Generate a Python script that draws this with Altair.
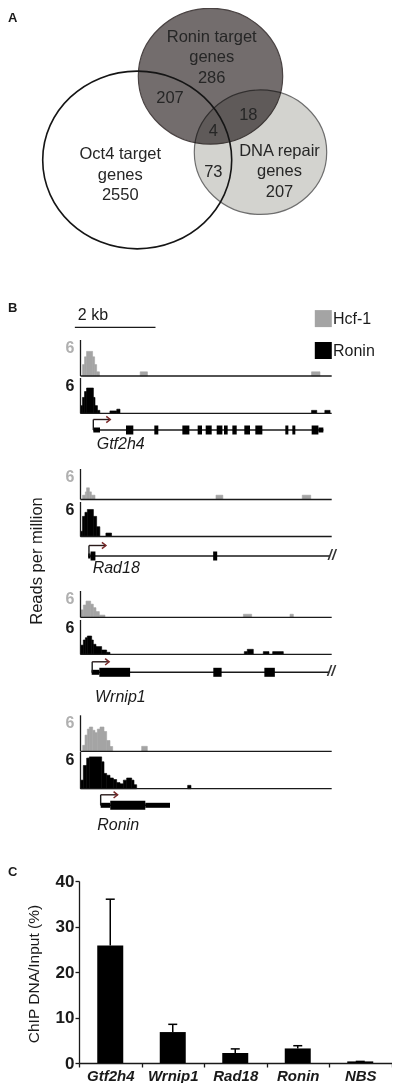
import altair as alt
import pandas as pd

FONT = "Liberation Sans"
INK = "#1a1a1a"

# ======================= DATA =======================
# ---- Panel A: Venn diagram counts ----
venn_sets = ["Ronin target\ngenes", "Oct4 target\ngenes", "DNA repair\ngenes"]
venn_unique = [286, 2550, 207]
venn_overlaps = ["Ronin+Oct4", "Ronin+DNA repair", "all three", "Oct4+DNA repair"]
venn_overlap_n = [207, 18, 4, 73]

# ---- Panel B: ChIP-seq tracks (kb from locus start, reads per million, 0-6 track scale) ----
tracks = ["Hcf-1", "Ronin"]
genes = ["Gtf2h4", "Rad18", "Wrnip1", "Ronin"]

gtf2h4_hcf_start = [0.05, 0.10, 0.15, 0.30, 0.35, 0.40, 1.48, 5.73]
gtf2h4_hcf_end = [0.10, 0.15, 0.30, 0.35, 0.40, 0.47, 1.66, 5.94]
gtf2h4_hcf_rpm = [1.9, 3.2, 4.1, 3.2, 1.9, 0.7, 0.7, 0.7]
gtf2h4_ron_start = [0.0, 0.05, 0.10, 0.15, 0.32, 0.36, 0.42, 0.73, 0.90, 5.73, 6.06]
gtf2h4_ron_end = [0.05, 0.10, 0.15, 0.32, 0.36, 0.42, 0.48, 0.90, 0.98, 5.86, 6.19]
gtf2h4_ron_rpm = [1.3, 2.7, 3.7, 4.3, 2.7, 1.3, 0.5, 0.4, 0.7, 0.5, 0.5]

rad18_hcf_start = [0.05, 0.12, 0.15, 0.22, 0.27, 3.36, 5.50]
rad18_hcf_end = [0.12, 0.15, 0.22, 0.27, 0.36, 3.53, 5.71]
rad18_hcf_rpm = [0.85, 1.5, 2.3, 1.5, 0.85, 0.85, 0.85]
rad18_ron_start = [0.0, 0.05, 0.11, 0.17, 0.32, 0.40, 0.63]
rad18_ron_end = [0.05, 0.11, 0.17, 0.32, 0.40, 0.48, 0.77]
rad18_ron_rpm = [0.9, 3.5, 4.2, 4.7, 3.5, 1.7, 0.6]

wrnip1_hcf_start = [0.0, 0.07, 0.136, 0.252, 0.318, 0.384, 0.467, 4.04, 5.196]
wrnip1_hcf_end = [0.07, 0.136, 0.252, 0.318, 0.384, 0.467, 0.607, 4.245, 5.279]
wrnip1_hcf_rpm = [1.7, 2.8, 3.7, 3.0, 2.2, 1.3, 0.5, 0.7, 0.7]
wrnip1_ron_start = [0.0, 0.07, 0.12, 0.169, 0.277, 0.318, 0.384, 0.525, 0.649, 4.063, 4.137, 4.534, 4.766]
wrnip1_ron_end = [0.07, 0.12, 0.169, 0.277, 0.318, 0.384, 0.525, 0.649, 0.732, 4.137, 4.286, 4.675, 5.03]
wrnip1_ron_rpm = [1.6, 2.5, 2.9, 3.2, 2.5, 1.75, 1.35, 0.75, 0.35, 0.47, 0.87, 0.47, 0.47]

ronin_hcf_start = [0.054, 0.112, 0.17, 0.22, 0.302, 0.36, 0.417, 0.484, 0.583, 0.649, 0.732, 1.517]
ronin_hcf_end = [0.112, 0.17, 0.22, 0.302, 0.36, 0.417, 0.484, 0.583, 0.649, 0.732, 0.798, 1.657]
ronin_hcf_rpm = [1.0, 2.7, 3.7, 4.05, 3.5, 3.1, 3.7, 4.05, 3.3, 1.8, 0.8, 0.83]
ronin_ron_start = [0.0, 0.07, 0.153, 0.219, 0.525, 0.583, 0.649, 0.732, 0.815, 0.897, 0.98, 1.063, 1.145, 1.27, 1.327, 2.658]
ronin_ron_end = [0.07, 0.153, 0.219, 0.525, 0.583, 0.649, 0.732, 0.815, 0.897, 0.98, 1.063, 1.145, 1.27, 1.327, 1.393, 2.74]
ronin_ron_rpm = [1.4, 3.8, 5.0, 5.2, 4.4, 2.5, 2.2, 1.75, 1.5, 1.0, 0.8, 1.4, 1.75, 1.4, 0.65, 0.55]

# gene models (kb): exons and their kind
gtf2h4_exon_start = [0.318, 1.128, 1.831, 2.526, 2.906, 3.105, 3.378, 3.559, 3.766, 4.063, 4.336, 5.080, 5.254, 5.733, 5.90]
gtf2h4_exon_end = [0.484, 1.31, 1.93, 2.70, 3.014, 3.254, 3.519, 3.650, 3.874, 4.204, 4.510, 5.155, 5.328, 5.90, 6.023]
gtf2h4_exon_kind = ["utr"] + ["cds"] * 13 + ["utr"]
rad18_exon_start = [0.19, 0.25, 3.29]
rad18_exon_end = [0.25, 0.37, 3.39]
rad18_exon_kind = ["utr", "cds", "cds"]
wrnip1_exon_start = [0.277, 0.467, 3.294, 4.56]
wrnip1_exon_end = [0.467, 1.23, 3.50, 4.82]
wrnip1_exon_kind = ["utr", "cds", "cds", "cds"]
ronin_exon_start = [0.50, 0.738, 1.607]
ronin_exon_end = [0.738, 1.607, 2.22]
ronin_exon_kind = ["utr", "cds", "utr"]

gene_tss = [0.318, 0.21, 0.29, 0.50]
gene_locus_start = [0.318, 0.19, 0.277, 0.50]
gene_locus_end = [6.023, 6.19, 6.17, 2.22]
gene_truncated = [False, True, True, False]
scalebar_kb = 2

# ---- Panel C: ChIP-qPCR ----
chip_genes = ["Gtf2h4", "Wrnip1", "Rad18", "Ronin", "NBS"]
chip_mean = [25.8, 6.8, 2.2, 3.2, 0.35]
chip_upper = [36.0, 8.5, 3.1, 3.8, 0.35]

# ======================= LAYOUT (page pixels) =======================
MARGIN = 8
def P(v):
    return v - MARGIN

W, H = 384, 1075

# Venn geometry
venn_cx = [210.5, 137.2, 260.5]
venn_cy = [76.2, 160.0, 152.2]
venn_rx = [72.2, 94.5, 66.2]
venn_lab_x = [211.7, 120.3, 279.5]
venn_lab_y = [37.0, 154.3, 151.0]      # first line of each label
venn_ov_x = [170.0, 248.3, 213.3, 213.3]
venn_ov_y = [98.3, 115.0, 131.0, 171.7]
ELLIPSE = "M -1 0 A 1 0.94 0 1 0 1 0 A 1 0.94 0 1 0 -1 0 Z"

# Panel B geometry
X0, PXKB, KB_MAX = 80.5, 40.32, 6.25
BASE_END = 6.23
hcf_top = [340, 469, 591, 715.3]
hcf_base = [376, 499.5, 617.3, 751.3]
ron_top = [378, 502, 620, 752]
ron_base = [413.3, 536.5, 654.3, 788.7]
gene_line_y = [430, 556, 672.3, 805.3]
name_y = [444, 568, 697, 825]
name_dx = [3.4, 3.7, 2.8, -3.4]
ARROW_KB = 0.42

# Panel C geometry
C_X0, C_X1 = 79.0, 391.5
C_Y0, C_Y40 = 1063.0, 881.0

# ======================= HELPERS =======================
ONE = pd.DataFrame({"k": [0]})


def page_x():
    return alt.Scale(domain=[0, 400], range=[-MARGIN, 400 - MARGIN], nice=False, zero=False)


def page_y():
    return alt.Scale(domain=[0, 1091], range=[-MARGIN, 1091 - MARGIN], nice=False, zero=False)


def xB():
    return alt.Scale(domain=[0, KB_MAX], range=[P(X0), P(X0 + KB_MAX * PXKB)], nice=False, zero=False)


def yTrack(top, base):
    return alt.Scale(domain=[0, 6], range=[P(base), P(top)], nice=False, zero=False)


def yGene(line):
    return alt.Scale(domain=[-1, 1], range=[P(line + 10), P(line - 10)], nice=False, zero=False)


def color_scale():
    return alt.Scale(domain=tracks, range=["#a4a4a4", "#000000"])


def text_mark(**kw):
    base = dict(font=FONT, color=INK)
    base.update(kw)
    return alt.Chart(ONE).mark_text(**base)


layers = []

# ======================= PANEL A =======================
layers.append(text_mark(text="A", fontSize=13, fontWeight="bold", align="left", baseline="middle")
              .encode(x=alt.value(0), y=alt.value(P(18))))

venn_df = pd.DataFrame({
    "set": venn_sets, "cx": venn_cx, "cy": venn_cy,
    "area": [(2 * r) ** 2 for r in venn_rx],
})
circle_style = {
    2: dict(fill="#d3d3cf", stroke="#6e6e6e", strokeWidth=1.2, filled=True),
    0: dict(fill="#736d6d", stroke="#4a4343", strokeWidth=1.2, filled=True, blend="multiply"),
    1: dict(stroke="#151515", strokeWidth=1.6, filled=False),
}
for i in [2, 0, 1]:
    layers.append(
        alt.Chart(venn_df.iloc[[i]]).mark_point(shape=ELLIPSE, opacity=1, **circle_style[i]).encode(
            x=alt.X("cx:Q", scale=page_x(), axis=None),
            y=alt.Y("cy:Q", scale=page_y(), axis=None),
            size=alt.Size("area:Q", scale=None, legend=None),
        )
    )

venn_text_df = pd.DataFrame({
    "label": [s + "\n" + str(n) for s, n in zip(venn_sets, venn_unique)],
    "x": venn_lab_x, "y": venn_lab_y,
})
layers.append(
    alt.Chart(venn_text_df).mark_text(font=FONT, fontSize=16.5, color="#262626", lineBreak="\n",
                                      lineHeight=20.3, align="center", baseline="middle").encode(
        x=alt.X("x:Q", scale=page_x(), axis=None),
        y=alt.Y("y:Q", scale=page_y(), axis=None),
        text="label:N",
    )
)
venn_ov_df = pd.DataFrame({"region": venn_overlaps, "n": venn_overlap_n, "x": venn_ov_x, "y": venn_ov_y})
layers.append(
    alt.Chart(venn_ov_df).mark_text(font=FONT, fontSize=16.5, color="#262626", align="center",
                                    baseline="middle").encode(
        x=alt.X("x:Q", scale=page_x(), axis=None),
        y=alt.Y("y:Q", scale=page_y(), axis=None),
        text="n:Q",
    )
)

# ======================= PANEL B =======================
layers.append(text_mark(text="B", fontSize=13, fontWeight="bold", align="left", baseline="middle")
              .encode(x=alt.value(0), y=alt.value(P(307.5))))

# scale bar
layers.append(
    alt.Chart(ONE).mark_rule(color=INK, strokeWidth=1.3).encode(
        x=alt.XDatum(-0.14, scale=xB(), axis=None),
        x2=alt.datum(-0.14 + scalebar_kb),
        y=alt.value(P(327.3)),
    )
)
layers.append(
    text_mark(text=f"{scalebar_kb} kb", fontSize=16, align="left", baseline="middle", dx=3).encode(
        x=alt.XDatum(-0.14, scale=xB(), axis=None),
        y=alt.value(P(315)),
    )
)

# legend
leg_df = pd.DataFrame({"track": tracks})
leg_y = alt.Scale(type="point", domain=tracks, range=[P(318.6), P(350.5)], padding=0)
layers.append(
    alt.Chart(leg_df).mark_square(size=289, opacity=1, filled=True).encode(
        x=alt.value(P(323.3)),
        y=alt.Y("track:N", scale=leg_y, axis=None),
        color=alt.Color("track:N", scale=color_scale(), legend=None),
    )
)
layers.append(
    alt.Chart(leg_df).mark_text(font=FONT, fontSize=16, color=INK, align="left", baseline="middle").encode(
        x=alt.value(P(333)),
        y=alt.Y("track:N", scale=leg_y, axis=None),
        text="track:N",
    )
)

# y title for tracks
layers.append(
    text_mark(text="Reads per million", fontSize=16.5, angle=270, align="center", baseline="middle")
    .encode(x=alt.value(P(37)), y=alt.value(P(561)))
)

coverage = {
    "Gtf2h4": [(gtf2h4_hcf_start, gtf2h4_hcf_end, gtf2h4_hcf_rpm), (gtf2h4_ron_start, gtf2h4_ron_end, gtf2h4_ron_rpm)],
    "Rad18": [(rad18_hcf_start, rad18_hcf_end, rad18_hcf_rpm), (rad18_ron_start, rad18_ron_end, rad18_ron_rpm)],
    "Wrnip1": [(wrnip1_hcf_start, wrnip1_hcf_end, wrnip1_hcf_rpm), (wrnip1_ron_start, wrnip1_ron_end, wrnip1_ron_rpm)],
    "Ronin": [(ronin_hcf_start, ronin_hcf_end, ronin_hcf_rpm), (ronin_ron_start, ronin_ron_end, ronin_ron_rpm)],
}
exons = {
    "Gtf2h4": (gtf2h4_exon_start, gtf2h4_exon_end, gtf2h4_exon_kind),
    "Rad18": (rad18_exon_start, rad18_exon_end, rad18_exon_kind),
    "Wrnip1": (wrnip1_exon_start, wrnip1_exon_end, wrnip1_exon_kind),
    "Ronin": (ronin_exon_start, ronin_exon_end, ronin_exon_kind),
}
label_colors = ["#b0b0b0", INK]

for gi, g in enumerate(genes):
    tops = [hcf_top[gi], ron_top[gi]]
    bases = [hcf_base[gi], ron_base[gi]]
    for ti, tr in enumerate(tracks):
        s, e, h = coverage[g][ti]
        df = pd.DataFrame({"start": s, "end": e, "rpm": h, "track": tr})
        ys = yTrack(tops[ti], bases[ti])
        layers.append(
            alt.Chart(df).mark_rect(strokeWidth=0.6).encode(
                x=alt.X("start:Q", scale=xB(), axis=None),
                x2="end:Q",
                y=alt.Y("rpm:Q", scale=ys, axis=None),
                y2=alt.datum(0),
                color=alt.Color("track:N", scale=color_scale(), legend=None),
                stroke=alt.Stroke("track:N", scale=color_scale(), legend=None),
            )
        )
        # track axis (vertical) and baseline
        layers.append(
            alt.Chart(ONE).mark_rule(color=INK, strokeWidth=1.3).encode(
                x=alt.XDatum(0, scale=xB(), axis=None),
                y=alt.YDatum(0, scale=yTrack(tops[ti], bases[ti]), axis=None),
                y2=alt.datum(6),
            )
        )
        layers.append(
            alt.Chart(ONE).mark_rule(color=INK, strokeWidth=1.3).encode(
                x=alt.XDatum(0, scale=xB(), axis=None),
                x2=alt.datum(BASE_END),
                y=alt.YDatum(0, scale=yTrack(tops[ti], bases[ti]), axis=None),
            )
        )
        layers.append(
            alt.Chart(ONE).mark_text(text="6", font=FONT, fontSize=16, fontWeight="bold",
                                     color=label_colors[ti], align="right", baseline="middle",
                                     dx=-6, dy=7.5).encode(
                x=alt.XDatum(0, scale=xB(), axis=None),
                y=alt.YDatum(6, scale=yTrack(tops[ti], bases[ti]), axis=None),
            )
        )

    # gene model
    gy = yGene(gene_line_y[gi])
    span_df = pd.DataFrame({"gene": [g], "s": [gene_locus_start[gi]], "e": [gene_locus_end[gi]],
                            "tss": [gene_tss[gi]]})
    layers.append(
        alt.Chart(span_df).mark_rule(color=INK, strokeWidth=1.4).encode(
            x=alt.X("s:Q", scale=xB(), axis=None), x2="e:Q",
            y=alt.YDatum(0, scale=gy, axis=None),
        )
    )
    es, ee, ek = exons[g]
    ex_df = pd.DataFrame({"start": es, "end": ee, "kind": ek})
    layers.append(
        alt.Chart(ex_df).transform_calculate(
            half="datum.kind == 'cds' ? 0.45 : 0.25"
        ).transform_calculate(lo="-datum.half").mark_rect(color="#000000").encode(
            x=alt.X("start:Q", scale=xB(), axis=None), x2="end:Q",
            y=alt.Y("half:Q", scale=gy, axis=None), y2="lo:Q",
        )
    )
    # TSS arrow
    arr = alt.Chart(span_df).transform_calculate(tip=f"datum.tss + {ARROW_KB}")
    layers.append(
        arr.mark_rule(color=INK, strokeWidth=1.4).encode(
            x=alt.X("tss:Q", scale=xB(), axis=None),
            y=alt.YDatum(0, scale=gy, axis=None), y2=alt.datum(1.05),
        )
    )
    layers.append(
        arr.mark_rule(color="#2a1a1a", strokeWidth=1.4).encode(
            x=alt.X("tss:Q", scale=xB(), axis=None), x2="tip:Q",
            y=alt.YDatum(1.05, scale=gy, axis=None),
        )
    )
    layers.append(
        arr.mark_point(shape="M -1 -0.8 L 0 0 L -1 0.8", filled=False, stroke="#7a2a2a",
                       strokeWidth=1.5, opacity=1, size=64).encode(
            x=alt.X("tip:Q", scale=xB(), axis=None),
            y=alt.YDatum(1.05, scale=gy, axis=None),
        )
    )
    # gene name
    layers.append(
        alt.Chart(span_df).mark_text(font=FONT, fontSize=16, fontStyle="italic", color=INK,
                                     align="left", baseline="middle", dx=name_dx[gi]).encode(
            x=alt.X("tss:Q", scale=xB(), axis=None),
            y=alt.value(P(name_y[gi])),
            text="gene:N",
        )
    )
    if gene_truncated[gi]:
        layers.append(
            alt.Chart(span_df).mark_text(text="//", font=FONT, fontSize=14, fontStyle="italic",
                                         fontWeight="bold", color="#333333", align="left",
                                         baseline="middle", dx=-2).encode(
                x=alt.X("e:Q", scale=xB(), axis=None),
                y=alt.YDatum(0, scale=gy, axis=None),
            )
        )

# ======================= PANEL C =======================
layers.append(text_mark(text="C", fontSize=13, fontWeight="bold", align="left", baseline="middle")
              .encode(x=alt.value(0), y=alt.value(P(872))))

chip_df = pd.DataFrame({"gene": chip_genes, "mean": chip_mean, "upper": chip_upper})


def xC(**ax):
    return alt.X("gene:N", sort=chip_genes,
                 scale=alt.Scale(domain=chip_genes, range=[P(C_X0), P(C_X1)], paddingInner=0, paddingOuter=0),
                 **ax)


def yC():
    return alt.Scale(domain=[0, 40], range=[P(C_Y0), P(C_Y40)], nice=False, zero=True)


bars = alt.Chart(chip_df).mark_bar(color="#000000", width=26).encode(
    x=xC(axis=alt.Axis(orient="bottom", offset=P(C_Y0) - H, tickSize=4, tickBand="extent",
                       labelFont=FONT, labelFontSize=15, labelFontStyle="italic", labelFontWeight="bold",
                       labelColor=INK, labelPadding=1, labelAngle=0, labelOverlap=False,
                       domainColor=INK, tickColor=INK, domainWidth=1.3, tickWidth=1.3, title=None)),
    y=alt.Y("mean:Q", scale=yC(),
            axis=alt.Axis(orient="left", offset=-P(C_X0), values=[0, 10, 20, 30, 40], tickSize=4,
                          labelFont=FONT, labelFontSize=17, labelFontWeight="bold", labelColor=INK,
                          labelPadding=1, domainColor=INK, tickColor=INK, domainWidth=1.3,
                          tickWidth=1.3, grid=False, title=None)),
)
err = alt.Chart(chip_df).mark_rule(color="#000000", strokeWidth=1.5).encode(
    x=xC(axis=None),
    y=alt.Y("mean:Q", scale=yC(), axis=None),
    y2="upper:Q",
)
cap = alt.Chart(chip_df).mark_tick(color="#000000", size=9, thickness=1.5, opacity=1).encode(
    x=xC(axis=None),
    y=alt.Y("upper:Q", scale=yC(), axis=None),
)
layers += [err, cap, bars]
layers.append(
    text_mark(text="ChIP DNA/Input (%)", fontSize=15.5, angle=270, align="center", baseline="middle")
    .encode(x=alt.value(P(34)), y=alt.value(P(974)))
)

chart = alt.layer(*layers).resolve_scale(
    x="independent", y="independent", color="independent", size="independent", stroke="independent"
).properties(
    width=W, height=H, padding=0, autosize=alt.AutoSizeParams(type="none"),
    background="#ffffff",
).configure_view(stroke=None)

chart.save("out.html", embed_options={"renderer": "svg", "actions": False})
